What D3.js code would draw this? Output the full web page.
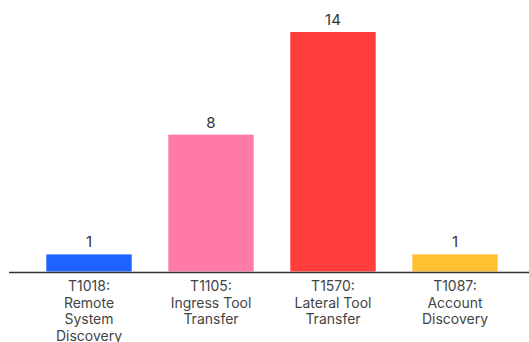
<!DOCTYPE html>
<html>
<head>
<meta charset="utf-8">
<script src="https://cdn.jsdelivr.net/npm/d3@7"></script>
<style>
  html, body { margin: 0; padding: 0; background: #fff; }
  svg { display: block; font-family: Inter, "Open Sans", sans-serif; }
</style>
</head>
<body>
<svg id="chart" width="529" height="342"></svg>
<script>
// Technique counts
const techniques = ["T1018", "T1105", "T1570", "T1087"];
const labelLines = [
  ["T1018:", "Remote", "System", "Discovery"],
  ["T1105:", "Ingress Tool", "Transfer"],
  ["T1570:", "Lateral Tool", "Transfer"],
  ["T1087:", "Account", "Discovery"]
];
const counts = [1, 8, 14, 1];
const barColors = ["#1f63ff", "#ff7aa9", "#ff3d3d", "#ffc12f"];

const width = 529, height = 342;
const baseline = 271.5;

const svg = d3.select("#chart");

const x = d3.scaleBand()
  .domain(techniques)
  .range([28, 516])
  .paddingInner(0.3)
  .paddingOuter(0.15);

const y = d3.scaleLinear()
  .domain([0, 14])
  .range([baseline, 32]);

// Bars
svg.append("g")
  .selectAll("rect")
  .data(techniques)
  .join("rect")
  .attr("x", d => x(d))
  .attr("width", x.bandwidth())
  .attr("y", (d, i) => y(counts[i]))
  .attr("height", (d, i) => y(0) - y(counts[i]))
  .attr("fill", (d, i) => barColors[i]);

// Value labels above bars
svg.append("g")
  .selectAll("text")
  .data(techniques)
  .join("text")
  .attr("x", d => x(d) + x.bandwidth() / 2)
  .attr("y", (d, i) => y(counts[i]) - 7)
  .attr("text-anchor", "middle")
  .attr("font-size", 15)
  .attr("fill", "#333")
  .text((d, i) => counts[i]);

// Baseline axis
const xAxis = d3.axisBottom(x).tickSize(0).tickFormat("");
const axisG = svg.append("g")
  .attr("transform", `translate(0,${baseline + 1})`)
  .call(xAxis);
axisG.select(".domain")
  .attr("d", `M9,0H${width}`)
  .attr("stroke", "#333")
  .attr("stroke-width", 1.6);

// Multi-line category labels
const labels = svg.append("g")
  .selectAll("text")
  .data(techniques)
  .join("text")
  .attr("text-anchor", "middle")
  .attr("font-size", 14)
  .attr("fill", "#444");
labels.each(function(d, i) {
  const t = d3.select(this);
  labelLines[i].forEach((line, j) => {
    t.append("tspan")
      .attr("x", x(d) + x.bandwidth() / 2)
      .attr("y", 291 + j * 16.5)
      .text(line);
  });
});
</script>
</body>
</html>
